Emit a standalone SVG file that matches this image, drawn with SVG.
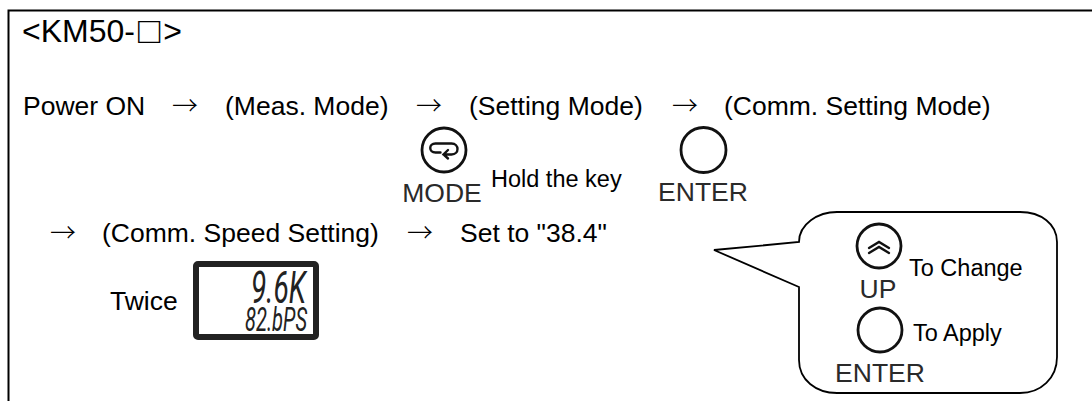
<svg xmlns="http://www.w3.org/2000/svg" width="1092" height="401" viewBox="0 0 1092 401">
<style>
text{font-family:"Liberation Sans",Arial,"Noto Sans CJK JP",sans-serif;fill:#000}
.t{font-size:32px}
.m{font-size:26.500px}
.a{font-size:26px;font-family:"Noto Sans CJK JP",sans-serif;font-weight:300}
.s{font-size:23.500px}
.k{font-size:26.500px;fill:#2a2a2a;text-anchor:middle}
.key{fill:#fff;stroke:#111;stroke-width:2.800}
.g{fill:none;stroke:#111;stroke-width:2.400;stroke-linejoin:miter;stroke-linecap:round}
.l{font-family:Roboto,"Liberation Sans",sans-serif;font-weight:400;font-style:italic;fill:#222}
</style>
<rect width="1092" height="401" fill="#fff"/>
<g id="frame"><path d="M8.500 401V10.500H1092" fill="none" stroke="#000" stroke-width="2"/></g>
<g id="title"><text class="t" x="22" y="42">&lt;KM50-<tspan dx="3" dy="1" font-size="37">□</tspan><tspan dx="3" dy="-1">&gt;</tspan></text></g>
<g id="row1">
<text class="m" x="23" y="115">Power ON</text><text class="a" x="172" y="115">→</text>
<text class="m" x="225" y="115">(Meas. Mode)</text><text class="a" x="416" y="115">→</text>
<text class="m" x="469" y="115">(Setting Mode)</text><text class="a" x="672" y="115">→</text>
<text class="m" x="724" y="115">(Comm. Setting Mode)</text>
</g>
<g id="mode-key"><circle class="key" cx="444" cy="150" r="22"/>
<path class="g" d="M440.500 152.500H435.500C428.500 152.500 428.500 143.500 435.500 143.500H451.500C459.500 143.500 459.500 154.500 451.500 154.500H443.500M448 150L443.500 154.500L448 158.500"/>
<text class="k" x="442" y="202">MODE</text></g>
<g id="hold"><text class="s" x="491" y="187">Hold the key</text></g>
<g id="enter-key"><circle class="key" cx="703.500" cy="150" r="22.500"/><text class="k" x="703" y="201">ENTER</text></g>
<g id="row2">
<text class="a" x="50" y="242">→</text>
<text class="m" x="102" y="242">(Comm. Speed Setting)</text><text class="a" x="407" y="242">→</text>
<text class="m" x="460" y="242">Set to "38.4"</text>
</g>
<g id="twice"><text class="m" x="110" y="310">Twice</text></g>
<g id="lcd"><rect x="196" y="264" width="120" height="73" rx="2" fill="#fff" stroke="#222" stroke-width="6"/>
<path d="M317 285h2M317 302h2" stroke="#222" stroke-width="2"/>
<text class="l" x="251" y="303" font-size="45" textLength="55" lengthAdjust="spacingAndGlyphs">9.6K</text>
<text class="l" x="245" y="331" font-size="33" textLength="62" lengthAdjust="spacingAndGlyphs">82.bPS</text></g>
<g id="callout"><path d="M714 250L799 242C799 224 818 212 837 212H1020C1041 212 1057 224 1057 242V357C1057 378 1041 393 1020 393H837C816 393 799 380 799 360V287Z" fill="#fff" stroke="#000" stroke-width="1.800"/></g>
<g id="up-key"><circle class="key" cx="879" cy="246" r="22"/>
<path class="g" d="M869 248L879 242L889 248M869 253L879 247L889 253"/>
<text class="k" x="878" y="298">UP</text></g>
<g id="change"><text class="s" x="909" y="276">To Change</text></g>
<g id="enter-key-2"><circle class="key" cx="880" cy="330" r="22"/><text class="k" x="880" y="382">ENTER</text></g>
<g id="apply"><text class="s" x="913" y="341">To Apply</text></g>
</svg>
